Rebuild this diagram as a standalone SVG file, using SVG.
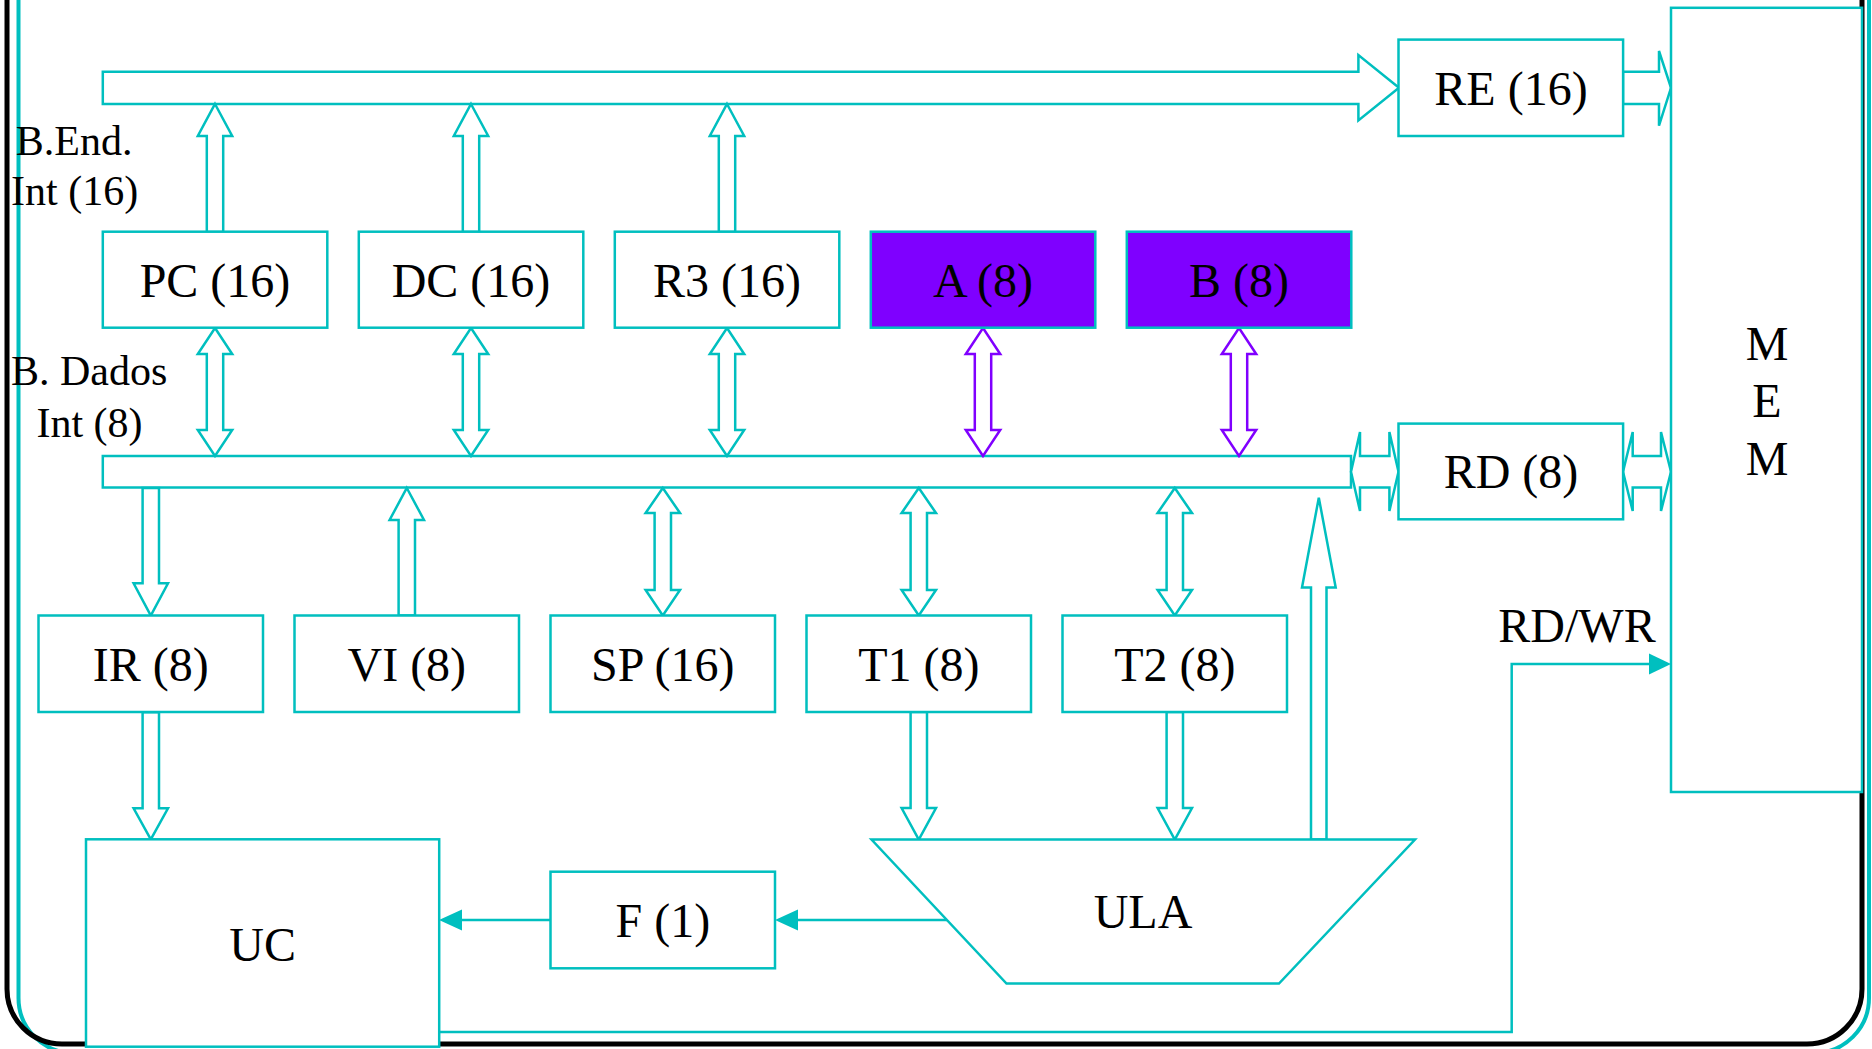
<svg xmlns="http://www.w3.org/2000/svg" width="1872" height="1049" viewBox="0 0 1872 1049">
<defs>
<style>
.box{fill:#fff;stroke:#00BFBF;stroke-width:2.5}
.pbox{fill:#7F00FF;stroke:#00BFBF;stroke-width:2.5}
.arr{fill:#fff;stroke:#00BFBF;stroke-width:2.5;stroke-linejoin:miter}
.parr{fill:#fff;stroke:#8000FF;stroke-width:2.5;stroke-linejoin:miter}
.ln{fill:none;stroke:#00BFBF;stroke-width:2.5}
.hd{fill:#00BFBF;stroke:none}
.t{font-family:"Liberation Serif","Times New Roman",serif;font-size:48px;fill:#000;text-anchor:middle}
.tl{font-family:"Liberation Serif","Times New Roman",serif;font-size:42px;fill:#000}
</style>
</defs>
<rect width="1872" height="1049" fill="#fff"/>
<g id="frame">
<rect x="18.5" y="-100" width="1850.5" height="1153" rx="55" fill="none" stroke="#00BFBF" stroke-width="4"/>
<rect x="7" y="-100" width="1855" height="1144" rx="55" fill="none" stroke="#000" stroke-width="5"/>
</g>
<g id="bus-end">
<polygon class="arr" points="102.8,71.7 1358.4,71.7 1358.4,55 1399,87.8 1358.4,120.5 1358.4,104 102.8,104"/>
<text class="tl" x="15.8" y="155">B.End.</text>
<text class="tl" x="11" y="205">Int (16)</text>
</g>
<g id="bus-dados">
<rect class="box" x="102.8" y="456" width="1248.2" height="31.5"/>
<text class="tl" x="11" y="385">B. Dados</text>
<text class="tl" x="36.4" y="437">Int (8)</text>
</g>
<g id="connectors">
<polygon class="arr" points="215,104 232.2,136 223.2,136 223.2,232 206.8,232 206.8,136 197.8,136"/>
<polygon class="arr" points="471,104 488.2,136 479.2,136 479.2,232 462.8,232 462.8,136 453.8,136"/>
<polygon class="arr" points="727,104 744.2,136 735.2,136 735.2,232 718.8,232 718.8,136 709.8,136"/>
<polygon class="arr" points="215,328 232.2,354 223.2,354 223.2,430 232.2,430 215,456 197.8,430 206.8,430 206.8,354 197.8,354"/>
<polygon class="arr" points="471,328 488.2,354 479.2,354 479.2,430 488.2,430 471,456 453.8,430 462.8,430 462.8,354 453.8,354"/>
<polygon class="arr" points="727,328 744.2,354 735.2,354 735.2,430 744.2,430 727,456 709.8,430 718.8,430 718.8,354 709.8,354"/>
<polygon class="parr" points="983,328 1000.2,354 991.2,354 991.2,430 1000.2,430 983,456 965.8,430 974.8,430 974.8,354 965.8,354"/>
<polygon class="parr" points="1239,328 1256.2,354 1247.2,354 1247.2,430 1256.2,430 1239,456 1221.8,430 1230.8,430 1230.8,354 1221.8,354"/>
<polygon class="arr" points="159,488 159,583.3 168,583.3 150.8,615.5 133.6,583.3 142.6,583.3 142.6,488"/>
<polygon class="arr" points="406.8,488 424,520 415,520 415,615.5 398.6,615.5 398.6,520 389.6,520"/>
<polygon class="arr" points="662.8,488 680,513 671,513 671,590 680,590 662.8,615.5 645.6,590 654.6,590 654.6,513 645.6,513"/>
<polygon class="arr" points="918.8,488 936,513 927,513 927,590 936,590 918.8,615.5 901.6,590 910.6,590 910.6,513 901.6,513"/>
<polygon class="arr" points="1174.8,488 1192,513 1183,513 1183,590 1192,590 1174.8,615.5 1157.6,590 1166.6,590 1166.6,513 1157.6,513"/>
<polygon class="arr" points="159,712.3 159,808.3 168,808.3 150.8,839.3 133.6,808.3 142.6,808.3 142.6,712.3"/>
<polygon class="arr" points="927,712 927,808 936,808 918.8,839.6 901.6,808 910.6,808 910.6,712"/>
<polygon class="arr" points="1183,712 1183,808 1192,808 1174.8,839.6 1157.6,808 1166.6,808 1166.6,712"/>
<polygon class="arr" points="1318.8,497.7 1335.7,587.5 1326.5,587.5 1326.5,839.6 1311,839.6 1311,587.5 1302,587.5"/>
<polygon class="arr" points="1623,71.7 1659,71.7 1659,51 1671,87.8 1659,125.7 1659,104 1623,104"/>
<polygon class="arr" points="1351,471.8 1360,432 1360,456 1389.4,456 1389.4,432 1398.5,471.8 1389.4,511 1389.4,487.5 1360,487.5 1360,511"/>
<polygon class="arr" points="1623,471.8 1632.7,432 1632.7,456 1661,456 1661,432 1671,471.8 1661,511 1661,487.5 1632.7,487.5 1632.7,511"/>
<line class="ln" x1="550.5" y1="920" x2="460" y2="920"/>
<polygon class="hd" points="439,920 462,909.5 462,930.5"/>
<line class="ln" x1="949" y1="920" x2="796" y2="920"/>
<polygon class="hd" points="775,920 798,909.5 798,930.5"/>
<polyline class="ln" points="439,1032 1511.7,1032 1511.7,664 1651,664"/>
<polygon class="hd" points="1671,664 1649,653.5 1649,674.5"/>
</g>
<g id="PC"><rect class="box" x="102.8" y="231.7" width="224.5" height="96"/><text class="t" x="215" y="296.5">PC (16)</text></g>
<g id="DC"><rect class="box" x="358.8" y="231.7" width="224.5" height="96"/><text class="t" x="471" y="296.5">DC (16)</text></g>
<g id="R3"><rect class="box" x="614.8" y="231.7" width="224.5" height="96"/><text class="t" x="727" y="296.5">R3 (16)</text></g>
<g id="A"><rect class="pbox" x="870.8" y="231.7" width="224.5" height="96"/><text class="t" x="983" y="296.5">A (8)</text></g>
<g id="B"><rect class="pbox" x="1126.8" y="231.7" width="224.5" height="96"/><text class="t" x="1239" y="296.5">B (8)</text></g>
<g id="IR"><rect class="box" x="38.5" y="615.5" width="224.5" height="96.5"/><text class="t" x="150.8" y="681">IR (8)</text></g>
<g id="VI"><rect class="box" x="294.5" y="615.5" width="224.5" height="96.5"/><text class="t" x="406.8" y="681">VI (8)</text></g>
<g id="SP"><rect class="box" x="550.5" y="615.5" width="224.5" height="96.5"/><text class="t" x="662.8" y="681">SP (16)</text></g>
<g id="T1"><rect class="box" x="806.5" y="615.5" width="224.5" height="96.5"/><text class="t" x="918.8" y="681">T1 (8)</text></g>
<g id="T2"><rect class="box" x="1062.5" y="615.5" width="224.5" height="96.5"/><text class="t" x="1174.8" y="681">T2 (8)</text></g>
<g id="RE"><rect class="box" x="1398.5" y="39.6" width="224.6" height="96.4"/><text class="t" x="1511" y="105">RE (16)</text></g>
<g id="RD"><rect class="box" x="1398.5" y="423.6" width="224.6" height="95.7"/><text class="t" x="1511" y="488">RD (8)</text></g>
<g id="MEM"><rect class="box" x="1671" y="7.8" width="191" height="784.2"/>
<text class="t" x="1767" y="360">M</text><text class="t" x="1767" y="417">E</text><text class="t" x="1767" y="475">M</text></g>
<g id="RDWR"><text class="t" x="1577" y="642">RD/WR</text></g>
<g id="UC"><rect class="box" x="86" y="839.3" width="353.2" height="207.4"/><text class="t" x="262.6" y="960.7">UC</text></g>
<g id="F"><rect class="box" x="550.5" y="871.7" width="224.5" height="96.6"/><text class="t" x="662.8" y="936.7">F (1)</text></g>
<g id="ULA"><polygon class="box" points="871.5,839.6 1415,839.6 1279,983.6 1006.5,983.6"/><text class="t" x="1143" y="928">ULA</text></g>
</svg>
